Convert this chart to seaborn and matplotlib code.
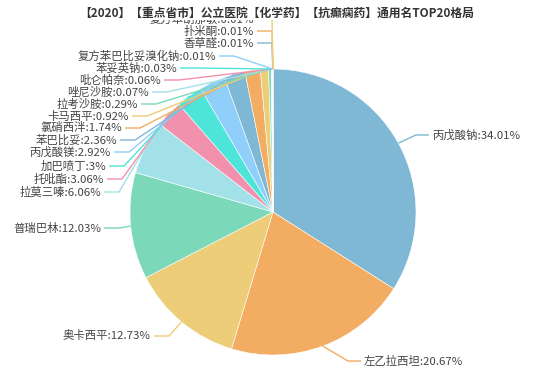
import matplotlib
matplotlib.use("Agg")
import matplotlib.pyplot as plt
import seaborn as sns
import numpy as np

sns.set_theme(style="white")
plt.rcParams['font.family'] = ['Noto Sans CJK SC', 'DejaVu Sans']

title = "【2020】【重点省市】公立医院【化学药】【抗癫痫药】通用名TOP20格局"
names = ["丙戊酸钠", "左乙拉西坦", "奥卡西平", "普瑞巴林", "拉莫三嗪", "托吡酯", "加巴喷丁",
         "丙戊酸镁", "苯巴比妥", "氯硝西泮", "卡马西平", "拉考沙胺", "唑尼沙胺", "吡仑帕奈",
         "苯妥英钠", "复方苯巴比妥溴化钠", "香草醛", "扑米酮", "复方苯胡那敏"]
values = [34.01, 20.67, 12.73, 12.03, 6.06, 3.06, 3, 2.92, 2.36, 1.74, 0.92, 0.29, 0.07, 0.06,
          0.03, 0.01, 0.01, 0.01, 0.01]
value_labels = ["34.01%", "20.67%", "12.73%", "12.03%", "6.06%", "3.06%", "3%", "2.92%", "2.36%",
                "1.74%", "0.92%", "0.29%", "0.07%", "0.06%", "0.03%", "0.01%", "0.01%", "0.01%", "0.01%"]

base_colors = ["#7fb8d4", "#f2ad62", "#edcd77", "#7bd8b8", "#a2e1e8", "#f291ad", "#4de4da", "#8fcffa"]
colors = [base_colors[i % len(base_colors)] for i in range(len(values))]

W, H = 533, 382
fig = plt.figure(figsize=(W / 100, H / 100), dpi=100)
ax = fig.add_axes([0, 0, 1, 1])
ax.set_xlim(0, W)
ax.set_ylim(0, H)
ax.set_aspect('equal')
ax.axis('off')

cx, cy, R = 273, H - 212, 143
ax.pie(values, colors=colors, startangle=90, counterclock=False, center=(cx, cy), radius=R,
       wedgeprops=dict(linewidth=0.4, edgecolor='white'), frame=True)
ax.set_xlim(0, W)
ax.set_ylim(0, H)
ax.axis('off')

# label layout (pixel coords from top): (side, text edge x, y)
layout = [("R", 432, 135), ("R", 364, 361), ("L", 151, 336), ("L", 101, 228), ("L", 101, 192),
          ("L", 104, 179), ("L", 106, 166), ("L", 111, 152), ("L", 117, 140), ("L", 122, 128),
          ("L", 129, 116), ("L", 138, 104), ("L", 149, 92), ("L", 161, 80), ("L", 177, 68),
          ("L", 216, 56), ("L", 254, 43), ("L", 254, 31), ("L", 254, 19)]

total = sum(values)
cum = 0.0
for i, v in enumerate(values):
    mid = cum + v / 2
    cum += v
    th = np.deg2rad(90 - 360 * mid / total)
    ax_x, ax_y = cx + R * np.cos(th), cy + R * np.sin(th)
    side, tx, ty = layout[i]
    ty_d = H - ty
    if side == "L":
        knee = tx + 18
        end = tx + 3
        ha = 'right'
    else:
        knee = tx - 16
        end = tx - 3
        ha = 'left'
    ax.plot([ax_x, knee, end], [ax_y, ty_d, ty_d], color=colors[i], lw=1.0, zorder=1,
            solid_capstyle='butt')
    ax.text(tx, ty_d, f"{names[i]}:{value_labels[i]}", ha=ha, va='center', fontsize=8.2,
            color='#444444', zorder=3)

ax.text(277, H - 13, title, ha='center', va='center', fontsize=8.5, fontweight='bold',
        color='#333333', zorder=5,
        bbox=dict(facecolor='white', edgecolor='none', pad=0.3))

fig.savefig("out.png", dpi=100)
